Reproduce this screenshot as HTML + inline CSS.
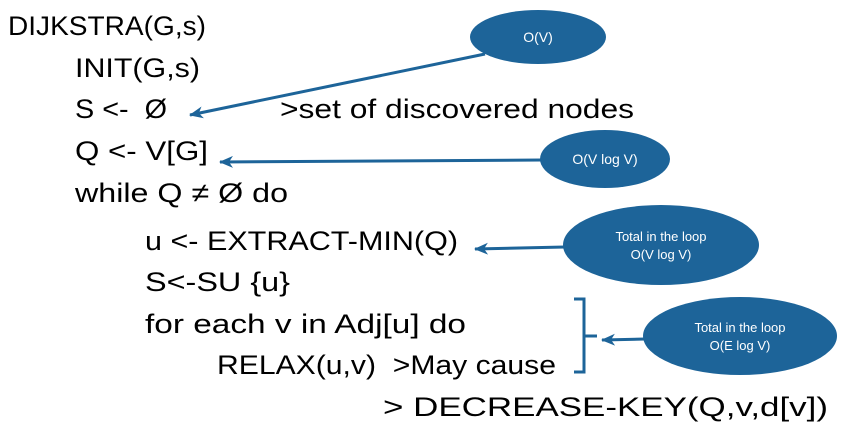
<!DOCTYPE html>
<html><head><meta charset="utf-8"><style>
html,body{margin:0;padding:0;background:#fff;}
svg{display:block;}
text{font-family:"Liberation Sans",sans-serif;}
.t{font-size:27px;fill:#000;}
.e{fill:#1d6499;}
.l{fill:#fff;font-size:14px;}
.s{fill:#fff;font-size:13px;}
</style></head><body>
<svg width="846" height="431" viewBox="0 0 846 431" xmlns="http://www.w3.org/2000/svg">
<defs>
<marker id="b" markerWidth="14" markerHeight="12" refX="13" refY="6" orient="auto" markerUnits="userSpaceOnUse"><path d="M0,0 L14,6 L0,12 L4,6 Z" fill="#1d6499"/></marker></defs>
<text class="t" x="8" y="35" textLength="198" lengthAdjust="spacingAndGlyphs">DIJKSTRA(G,s)</text>
<text class="t" x="75" y="77" textLength="125" lengthAdjust="spacingAndGlyphs">INIT(G,s)</text>
<text class="t" x="75" y="118" textLength="92" lengthAdjust="spacingAndGlyphs">S &lt;-&#160;&#160;Ø</text>
<text class="t" x="280" y="118" textLength="354" lengthAdjust="spacingAndGlyphs">&gt;set of discovered nodes</text>
<text class="t" x="75" y="160" textLength="133" lengthAdjust="spacingAndGlyphs">Q &lt;- V[G]</text>
<text class="t" x="75" y="202" textLength="213" lengthAdjust="spacingAndGlyphs">while Q ≠ Ø do</text>
<text class="t" x="145" y="250" textLength="313" lengthAdjust="spacingAndGlyphs">u &lt;- EXTRACT-MIN(Q)</text>
<text class="t" x="145" y="291" textLength="145" lengthAdjust="spacingAndGlyphs">S&lt;-SU {u}</text>
<text class="t" x="145" y="333" textLength="321" lengthAdjust="spacingAndGlyphs">for each v in Adj[u] do</text>
<text class="t" x="217" y="374" textLength="339" lengthAdjust="spacingAndGlyphs">RELAX(u,v)&#160;&#160;&gt;May cause</text>
<text class="t" x="383" y="416" textLength="445" lengthAdjust="spacingAndGlyphs">&gt; DECREASE-KEY(Q,v,d[v])</text>
<g stroke="#1d6499" stroke-width="3" fill="none">
<line x1="485" y1="54" x2="190" y2="115" marker-end="url(#b)"/>
<line x1="542" y1="160" x2="220" y2="162" marker-end="url(#b)"/>
<line x1="565" y1="247" x2="475" y2="249" marker-end="url(#b)"/>
<polyline points="574,299 584,299 584,372 574,372"/>
<line x1="584" y1="336" x2="597" y2="336"/>
<line x1="645" y1="339" x2="602" y2="340" marker-end="url(#b)"/>
</g>
<ellipse class="e" cx="538" cy="37" rx="68" ry="27"/>
<ellipse class="e" cx="605" cy="159" rx="65" ry="29"/>
<ellipse class="e" cx="661" cy="245" rx="98" ry="40"/>
<ellipse class="e" cx="740" cy="336" rx="97" ry="39"/>
<text class="l" x="538" y="42" text-anchor="middle">O(V)</text>
<text class="l" x="605" y="164" text-anchor="middle">O(V log V)</text>
<text class="s" x="661" y="241" text-anchor="middle">Total in the loop</text>
<text class="s" x="661" y="259" text-anchor="middle">O(V log V)</text>
<text class="s" x="740" y="332" text-anchor="middle">Total in the loop</text>
<text class="s" x="740" y="350" text-anchor="middle">O(E log V)</text>
</svg>
</body></html>
